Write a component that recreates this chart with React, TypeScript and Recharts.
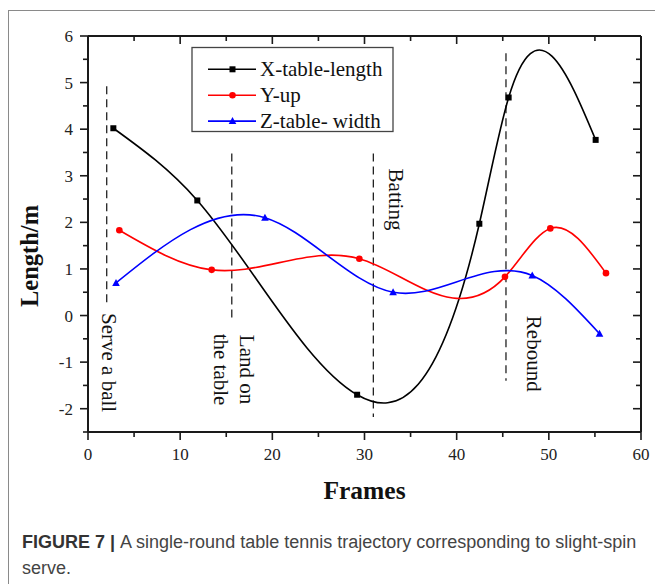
import { LineChart, Line, XAxis, YAxis, ReferenceLine, ReferenceDot } from 'recharts';

const frameTicks = [0, 5, 10, 15, 20, 25, 30, 35, 40, 45, 50, 55, 60];
const lengthTicks = [-2.5, -2, -1.5, -1, -0.5, 0, 0.5, 1, 1.5, 2, 2.5, 3, 3.5, 4, 4.5, 5, 5.5, 6];

const xFrames = [2.75, 11.86, 29.2, 42.46, 45.64, 55.08];
const xLength = [4.02, 2.47, -1.7, 1.97, 4.68, 3.77];
const yFrames = [3.4, 13.42, 29.44, 45.24, 50.16, 56.2];
const yUp = [1.83, 0.98, 1.22, 0.83, 1.87, 0.91];
const zFrames = [3.04, 19.2, 33.1, 48.2, 55.5];
const zWidth = [0.7, 2.1, 0.5, 0.86, -0.39];

const seriesNames = ['X-table-length', 'Y-up', 'Z-table- width'];
const seriesColors = ['#000000', '#ff0000', '#0000ff'];

// phase markers (dashed lines) and their labels
const phaseFrames = [2.03, 15.6, 30.96, 45.35];
const phaseTop = [4.92, 3.48, 3.48, 5.63];
const phaseBottom = [0.26, -0.1, -2.18, -1.4];
const labelTexts = ['Serve a ball', 'Land on', 'the table', 'Batting', 'Rebound'];
const labelFrames = [2.3, 17.2, 14.48, 33.47, 48.39];
const labelLengths = [-1.01, -1.16, -1.16, 2.49, -0.82];

const toPoints = (xs: number[], ys: number[]) => xs.map((x, i) => ({ x, y: ys[i] }));
const xData = toPoints(xFrames, xLength);
const yData = toPoints(yFrames, yUp);
const zData = toPoints(zFrames, zWidth);

const SERIF = '"Liberation Serif", "Times New Roman", serif';
const AXIS = '#1a1a1a';

// natural cubic spline y(x), like Origin's spline connector
function splineCurve(context: any) {
  let xs: number[] = [];
  let ys: number[] = [];
  return {
    areaStart() {},
    areaEnd() {},
    lineStart() {
      xs = [];
      ys = [];
    },
    point(x: number, y: number) {
      xs.push(+x);
      ys.push(+y);
    },
    lineEnd() {
      const n = xs.length;
      if (!n) return;
      context.moveTo(xs[0], ys[0]);
      if (n === 1) return;
      if (n === 2) {
        context.lineTo(xs[1], ys[1]);
        return;
      }
      const h: number[] = [];
      for (let i = 0; i < n - 1; i++) h.push(xs[i + 1] - xs[i]);
      const M = new Array(n).fill(0);
      const a: number[] = [], b: number[] = [], c: number[] = [], r: number[] = [];
      for (let i = 1; i < n - 1; i++) {
        a.push(h[i - 1]);
        b.push(2 * (h[i - 1] + h[i]));
        c.push(h[i]);
        r.push(6 * ((ys[i + 1] - ys[i]) / h[i] - (ys[i] - ys[i - 1]) / h[i - 1]));
      }
      const m = b.length;
      for (let i = 1; i < m; i++) {
        const w = a[i] / b[i - 1];
        b[i] -= w * c[i - 1];
        r[i] -= w * r[i - 1];
      }
      const sol = new Array(m).fill(0);
      sol[m - 1] = r[m - 1] / b[m - 1];
      for (let i = m - 2; i >= 0; i--) sol[i] = (r[i] - c[i] * sol[i + 1]) / b[i];
      for (let i = 0; i < m; i++) M[i + 1] = sol[i];
      for (let i = 0; i < n - 1; i++) {
        const hi = h[i];
        const s = (ys[i + 1] - ys[i]) / hi;
        const d0 = s - (hi * (2 * M[i] + M[i + 1])) / 6;
        const d1 = s + (hi * (M[i] + 2 * M[i + 1])) / 6;
        context.bezierCurveTo(
          xs[i] + hi / 3, ys[i] + (d0 * hi) / 3,
          xs[i + 1] - hi / 3, ys[i + 1] - (d1 * hi) / 3,
          xs[i + 1], ys[i + 1]
        );
      }
    },
  };
}

const squareDot = (p: any) => (
  <rect key={`s-${p.index}`} x={p.cx - 3} y={p.cy - 3} width={6} height={6} fill="#000" />
);
const circleDot = (p: any) => (
  <circle key={`c-${p.index}`} cx={p.cx} cy={p.cy} r={3.3} fill="#ff0000" />
);
const triangleDot = (p: any) => (
  <polygon
    key={`t-${p.index}`}
    points={`${p.cx},${p.cy - 4} ${p.cx - 3.8},${p.cy + 3} ${p.cx + 3.8},${p.cy + 3}`}
    fill="#0000ff"
  />
);

const BottomTick = ({ x, y, payload }: any) => {
  const major = payload.value % 10 === 0;
  return (
    <g>
      <line x1={x} y1={y} x2={x} y2={y + (major ? 8 : 5)} stroke={AXIS} strokeWidth={1.6} />
      {major && (
        <text x={x} y={y + 28} textAnchor="middle" fontSize={17} fontFamily={SERIF} fill="#222">
          {payload.value}
        </text>
      )}
    </g>
  );
};

const TopTick = ({ x, y, payload }: any) => {
  const major = payload.value % 10 === 0;
  return <line x1={x} y1={y} x2={x} y2={y + (major ? 8 : 5)} stroke={AXIS} strokeWidth={1.6} />;
};

const LeftTick = ({ x, y, payload }: any) => {
  const major = Number.isInteger(payload.value);
  return (
    <g>
      <line x1={x - (major ? 8 : 5)} y1={y} x2={x} y2={y} stroke={AXIS} strokeWidth={1.6} />
      {major && (
        <text x={x - 15} y={y + 6} textAnchor="end" fontSize={17} fontFamily={SERIF} fill="#222">
          {payload.value}
        </text>
      )}
    </g>
  );
};

const RightTick = ({ x, y, payload }: any) => {
  const major = Number.isInteger(payload.value);
  return <line x1={x - (major ? 8 : 5)} y1={y} x2={x} y2={y} stroke={AXIS} strokeWidth={1.6} />;
};

const phaseLabel = (text: string) => (p: any) => (
  <text
    x={p.cx}
    y={p.cy}
    transform={`rotate(90 ${p.cx} ${p.cy})`}
    textAnchor="middle"
    dominantBaseline="central"
    fontSize={21}
    fontFamily={SERIF}
    fill="#111"
  >
    {text}
  </text>
);

const legendMarkers = [
  (cx: number, cy: number) => <rect x={cx - 3} y={cy - 3} width={6} height={6} fill="#000" />,
  (cx: number, cy: number) => <circle cx={cx} cy={cy} r={3.3} fill="#ff0000" />,
  (cx: number, cy: number) => (
    <polygon points={`${cx},${cy - 4} ${cx - 3.8},${cy + 3} ${cx + 3.8},${cy + 3}`} fill="#0000ff" />
  ),
];

export default function App() {
  return (
    <div
      style={{
        position: 'absolute',
        left: 0,
        top: 0,
        width: 655,
        height: 584,
        background: '#fff',
        overflow: 'hidden',
      }}
    >
      <div
        style={{
          position: 'absolute',
          left: 8,
          top: 10,
          width: 700,
          height: 700,
          border: '1.5px solid #8a8a8a',
        }}
      />
      <LineChart
        width={655}
        height={520}
        margin={{ top: 35, right: 13, bottom: 48, left: 28 }}
        style={{ position: 'absolute', left: 0, top: 0 }}
      >
        <XAxis
          dataKey="x"
          type="number"
          domain={[0, 60]}
          ticks={frameTicks}
          interval={0}
          height={40}
          tickSize={0}
          tickMargin={0}
          tickLine={false}
          tick={<BottomTick />}
          axisLine={{ stroke: AXIS, strokeWidth: 2 }}
          allowDataOverflow
        />
        <XAxis
          xAxisId="top"
          dataKey="x"
          orientation="top"
          type="number"
          domain={[0, 60]}
          ticks={frameTicks}
          interval={0}
          height={1}
          tickSize={0}
          tickMargin={0}
          tickLine={false}
          tick={<TopTick />}
          axisLine={{ stroke: AXIS, strokeWidth: 2 }}
          allowDataOverflow
        />
        <YAxis
          type="number"
          domain={[-2.5, 6]}
          ticks={lengthTicks}
          interval={0}
          width={60}
          tickSize={0}
          tickMargin={0}
          tickLine={false}
          tick={<LeftTick />}
          axisLine={{ stroke: AXIS, strokeWidth: 2 }}
          allowDataOverflow
        />
        <YAxis
          yAxisId="right"
          orientation="right"
          type="number"
          domain={[-2.5, 6]}
          ticks={lengthTicks}
          interval={0}
          width={1}
          tickSize={0}
          tickMargin={0}
          tickLine={false}
          tick={<RightTick />}
          axisLine={{ stroke: AXIS, strokeWidth: 2 }}
          allowDataOverflow
        />
        {phaseFrames.map((f, i) => (
          <ReferenceLine
            key={`phase-${i}`}
            segment={[
              { x: f, y: phaseTop[i] },
              { x: f, y: phaseBottom[i] },
            ]}
            stroke="#222"
            strokeWidth={1.3}
            strokeDasharray="8 5"
          />
        ))}
        {labelTexts.map((t, i) => (
          <ReferenceDot
            key={`label-${i}`}
            x={labelFrames[i]}
            y={labelLengths[i]}
            r={0}
            shape={phaseLabel(t)}
          />
        ))}
        {/* invisible series so the mirrored top/right axes get drawn */}
        <Line
          data={xData}
          dataKey="y"
          xAxisId="top"
          yAxisId="right"
          stroke="none"
          dot={false}
          activeDot={false}
          legendType="none"
          isAnimationActive={false}
        />
        <Line
          data={xData}
          dataKey="y"
          name={seriesNames[0]}
          type={splineCurve as any}
          stroke={seriesColors[0]}
          strokeWidth={1.6}
          dot={squareDot}
          activeDot={false}
          isAnimationActive={false}
        />
        <Line
          data={yData}
          dataKey="y"
          name={seriesNames[1]}
          type={splineCurve as any}
          stroke={seriesColors[1]}
          strokeWidth={1.6}
          dot={circleDot}
          activeDot={false}
          isAnimationActive={false}
        />
        <Line
          data={zData}
          dataKey="y"
          name={seriesNames[2]}
          type={splineCurve as any}
          stroke={seriesColors[2]}
          strokeWidth={1.6}
          dot={triangleDot}
          activeDot={false}
          isAnimationActive={false}
        />
      </LineChart>
      <svg
        width={655}
        height={584}
        style={{ position: 'absolute', left: 0, top: 0, pointerEvents: 'none' }}
      >
        <text
          x={29}
          y={256}
          transform="rotate(-90 29 256)"
          textAnchor="middle"
          dominantBaseline="central"
          fontSize={24.5}
          fontWeight="bold"
          fontFamily={SERIF}
          fill="#111"
        >
          Length/m
        </text>
        <text
          x={364.5}
          y={499}
          textAnchor="middle"
          fontSize={25.5}
          fontWeight="bold"
          fontFamily={SERIF}
          fill="#111"
        >
          Frames
        </text>
        <rect x={192} y={47.5} width={201} height={84} fill="#fff" stroke="#444" strokeWidth={1.3} />
        {seriesNames.map((name, i) => {
          const cy = 69.3 + i * 25.9;
          return (
            <g key={name}>
              <line x1={208} y1={cy} x2={256} y2={cy} stroke={seriesColors[i]} strokeWidth={1.6} />
              {legendMarkers[i](232.5, cy)}
              <text x={260} y={cy + 7} fontSize={21} fontFamily={SERIF} fill="#111">
                {name}
              </text>
            </g>
          );
        })}
      </svg>
      <div
        style={{
          position: 'absolute',
          left: 22,
          top: 529,
          width: 628,
          fontSize: 18,
          lineHeight: '26px',
          fontFamily: '"Liberation Sans", Arial, sans-serif',
          color: '#444',
        }}
      >
        <b style={{ color: '#333', marginRight: 5 }}>FIGURE 7 |</b>
        <span>A single-round table tennis trajectory corresponding to slight-spin serve.</span>
      </div>
    </div>
  );
}
